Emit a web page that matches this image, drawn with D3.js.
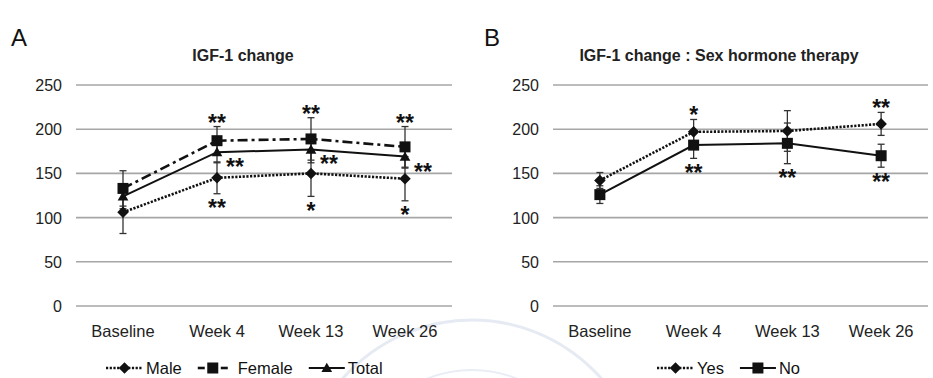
<!DOCTYPE html>
<html>
<head>
<meta charset="utf-8">
<script src="https://cdn.jsdelivr.net/npm/d3@7"></script>
<style>
  body { margin: 0; background: #fff; }
  svg { display: block; font-family: "Liberation Sans", Arial, sans-serif; }
</style>
</head>
<body>
<div id="chart"></div>
<script>
// Categories and ticks
const weeks = ['Baseline', 'Week 4', 'Week 13', 'Week 26'];
const yTicks = [0, 50, 100, 150, 200, 250];

// Panel A: IGF-1 by sex (mean, SE)
const maleMean = [106, 145, 150, 144];
const maleSE = [24, 18, 26, 25];
const femaleMean = [133, 187, 189, 180];
const femaleSE = [20, 16, 24, 23];
const totalMean = [124, 174, 177, 169];
const totalSE = [14, 12, 15, 13];

// Panel B: IGF-1 by sex hormone therapy
const yesMean = [142, 197, 198, 206];
const yesSE = [9, 14, 23, 13];
const noMean = [126, 182, 184, 170];
const noSE = [10, 15, 23, 13];

// significance marks: which series/point they belong to and where
const starsA = [
  { week: 'Week 4', series: 'Female', pos: 'above', text: '**' },
  { week: 'Week 4', series: 'Total', pos: 'right', text: '**' },
  { week: 'Week 4', series: 'Male', pos: 'below', text: '**' },
  { week: 'Week 13', series: 'Female', pos: 'above', text: '**' },
  { week: 'Week 13', series: 'Total', pos: 'right', text: '**' },
  { week: 'Week 13', series: 'Male', pos: 'below', text: '*' },
  { week: 'Week 26', series: 'Female', pos: 'above', text: '**' },
  { week: 'Week 26', series: 'Total', pos: 'right', text: '**' },
  { week: 'Week 26', series: 'Male', pos: 'below', text: '*' },
];
const starsB = [
  { week: 'Week 4', series: 'Yes', pos: 'above', text: '*' },
  { week: 'Week 4', series: 'No', pos: 'below', text: '**' },
  { week: 'Week 13', series: 'No', pos: 'below', text: '**' },
  { week: 'Week 26', series: 'Yes', pos: 'above', text: '**' },
  { week: 'Week 26', series: 'No', pos: 'below', text: '**' },
];

const width = 933;
const height = 378;
const svg = d3.select('#chart').append('svg')
  .attr('width', width)
  .attr('height', height);

// faint watermark rings behind the charts
const seal = svg.append('g').attr('fill', 'none');
const sealC = [472, 492];
seal.append('circle').attr('cx', sealC[0]).attr('cy', sealC[1]).attr('r', 172)
  .attr('stroke', '#e6eaf3').attr('stroke-width', 3);
seal.append('circle').attr('cx', sealC[0]).attr('cy', sealC[1]).attr('r', 122)
  .attr('stroke', '#e9edf5').attr('stroke-width', 2);

const y = d3.scaleLinear().domain([0, 250]).range([306, 85]);

const dash = { dotted: '2.2,1.5', dashdot: '10,4,3,4', solid: null };

function marker(g, shape, cx, cy) {
  if (shape === 'diamond') {
    g.append('path').attr('d', d3.symbol(d3.symbolDiamond2, 85)())
      .attr('transform', `translate(${cx},${cy})`).attr('fill', '#111');
  } else if (shape === 'square') {
    g.append('rect').attr('x', cx - 5.5).attr('y', cy - 5.5)
      .attr('width', 11).attr('height', 11).attr('fill', '#111');
  } else {
    g.append('path').attr('d', d3.symbol(d3.symbolTriangle, 50)())
      .attr('transform', `translate(${cx},${cy + 1})`).attr('fill', '#111');
  }
}

function drawPanel(cfg) {
  const g = svg.append('g');
  const x = d3.scalePoint().domain(weeks).range([cfg.x0, cfg.x1]).padding(0.5);

  // panel letter and title
  g.append('text').attr('x', cfg.letterX).attr('y', 46)
    .attr('font-size', 24).attr('fill', '#111').text(cfg.letter);
  g.append('text').attr('x', cfg.titleX).attr('y', 61)
    .attr('text-anchor', 'middle').attr('font-size', 16).attr('font-weight', 'bold')
    .attr('fill', '#222').text(cfg.title);

  // gridlines + y labels
  g.selectAll('line.grid').data(yTicks).join('line')
    .attr('class', 'grid')
    .attr('x1', cfg.x0).attr('x2', cfg.x1)
    .attr('y1', d => y(d)).attr('y2', d => y(d))
    .attr('stroke', '#a6a6a6').attr('stroke-width', 1.6);
  g.selectAll('text.ytick').data(yTicks).join('text')
    .attr('class', 'ytick')
    .attr('x', cfg.x0 - 14).attr('y', d => y(d) + 6)
    .attr('text-anchor', 'end').attr('font-size', 16).attr('fill', '#222')
    .text(d => d);

  // x labels
  g.selectAll('text.xtick').data(weeks).join('text')
    .attr('class', 'xtick')
    .attr('x', d => x(d)).attr('y', 337)
    .attr('text-anchor', 'middle').attr('font-size', 16.5).attr('fill', '#222')
    .text(d => d);

  const line = d3.line().x((d, i) => x(weeks[i])).y(d => y(d));

  cfg.series.forEach(s => {
    // error bars
    s.mean.forEach((m, i) => {
      const cx = x(weeks[i]);
      g.append('line').attr('x1', cx).attr('x2', cx)
        .attr('y1', y(m - s.se[i])).attr('y2', y(m + s.se[i]))
        .attr('stroke', '#333').attr('stroke-width', 1.3);
      [m - s.se[i], m + s.se[i]].forEach(v => {
        g.append('line').attr('x1', cx - 3.5).attr('x2', cx + 3.5)
          .attr('y1', y(v)).attr('y2', y(v))
          .attr('stroke', '#333').attr('stroke-width', 1.3);
      });
    });
  });

  cfg.series.forEach(s => {
    g.append('path').datum(s.mean).attr('d', line)
      .attr('fill', 'none').attr('stroke', '#111')
      .attr('stroke-width', s.style === 'solid' ? 2 : 2.6)
      .attr('stroke-dasharray', dash[s.style]);
    s.mean.forEach((m, i) => marker(g, s.shape, x(weeks[i]), y(m)));
  });

  // significance stars
  const bySeries = {};
  cfg.series.forEach(s => { bySeries[s.name] = s; });
  const fs = 23;
  cfg.stars.forEach(st => {
    const s = bySeries[st.series];
    const i = weeks.indexOf(st.week);
    let cx = x(st.week);
    let cy;
    if (st.pos === 'above') cy = y(s.mean[i] + s.se[i]) - 8;
    else if (st.pos === 'below') cy = y(s.mean[i] - s.se[i]) + 10.5;
    else { cx += 18; cy = y(s.mean[i]) + 11; }
    g.append('text').attr('x', cx).attr('y', cy + 0.52 * fs)
      .attr('text-anchor', 'middle').attr('font-size', fs).attr('font-weight', 'bold')
      .attr('fill', '#111').text(st.text);
  });

  // legend
  let lx = cfg.legendX;
  const ly = 368;
  cfg.series.forEach(s => {
    const lg = g.append('g');
    const seg = s.style === 'solid' ? 36 : (s.style === 'dotted' ? 37 : 30);
    const sw = s.style === 'solid' ? 2 : 2.6;
    if (s.style === 'dashdot') {
      lg.append('line').attr('x1', lx).attr('x2', lx + 7).attr('y1', ly).attr('y2', ly)
        .attr('stroke', '#111').attr('stroke-width', sw);
      lg.append('line').attr('x1', lx + seg - 7).attr('x2', lx + seg).attr('y1', ly).attr('y2', ly)
        .attr('stroke', '#111').attr('stroke-width', sw);
    } else {
      lg.append('line').attr('x1', lx).attr('x2', lx + seg).attr('y1', ly).attr('y2', ly)
        .attr('stroke', '#111').attr('stroke-width', sw)
        .attr('stroke-dasharray', dash[s.style]);
    }
    marker(lg, s.shape, lx + seg / 2, ly);
    const t = lg.append('text').attr('x', lx + seg + (s.style === 'dashdot' ? 10 : 3)).attr('y', ly + 6)
      .attr('font-size', 16.5).attr('fill', '#111').text(s.name);
    lx = lx + seg + (s.style === 'dashdot' ? 10 : 3) + t.node().getComputedTextLength() + cfg.legendGap;
  });
}

drawPanel({
  letter: 'A', letterX: 11, title: 'IGF-1 change', titleX: 243,
  x0: 76, x1: 452, legendX: 106, legendGap: 16,
  series: [
    { name: 'Male', mean: maleMean, se: maleSE, shape: 'diamond', style: 'dotted' },
    { name: 'Female', mean: femaleMean, se: femaleSE, shape: 'square', style: 'dashdot' },
    { name: 'Total', mean: totalMean, se: totalSE, shape: 'triangle', style: 'solid' },
  ],
  stars: starsA,
});

drawPanel({
  letter: 'B', letterX: 484, title: 'IGF-1 change : Sex hormone therapy', titleX: 719,
  x0: 553, x1: 928, legendX: 657, legendGap: 16,
  series: [
    { name: 'Yes', mean: yesMean, se: yesSE, shape: 'diamond', style: 'dotted' },
    { name: 'No', mean: noMean, se: noSE, shape: 'square', style: 'solid' },
  ],
  stars: starsB,
});
</script>
</body>
</html>
